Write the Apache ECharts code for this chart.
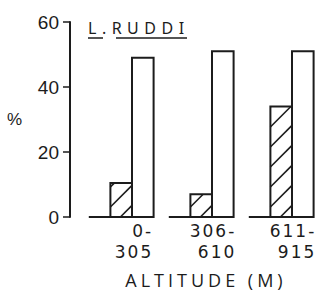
<!DOCTYPE html>
<html><head><meta charset="utf-8">
<script src="https://cdn.jsdelivr.net/npm/echarts@6/dist/echarts.min.js"></script>
<style>
html,body{margin:0;padding:0;background:#fff;}
#c{width:319px;height:291px;}
#c text[style*="DejaVu"]{letter-spacing:2px;}
#c text[style*="Noto Sans"]{letter-spacing:5.5px;}
#c text[style*="Open Sans"]{letter-spacing:4px;}
</style></head><body><div id="c"></div>
<script>
const categories = ['0-\n305', '306-\n610', '611-\n915'];
const hatchedValues = [10.5, 7, 34];
const openValues = [49, 51, 51];
const yTicks = [0, 20, 40, 60];
const titleText = 'L.RUDDI';
const xName = 'ALTITUDE (M)';
const yName = '%';

const ink = '#1c1c1c';
const chart = echarts.init(document.getElementById('c'), null, {renderer: 'svg'});

function renderItem(params, api) {
  const idx = api.value(0);
  const hv = api.value(1), ov = api.value(2);
  const p0 = api.coord([idx, 0]);
  const pH = api.coord([idx, hv]);
  const pO = api.coord([idx, ov]);
  const band = api.size([1, 0])[0];
  const w = band * 0.27;
  const cx = p0[0], yb = p0[1];
  const children = [];
  const x0 = cx - w, x1 = cx, y0 = pH[1], y1 = yb;
  children.push({type: 'rect', shape: {x: x0, y: y0, width: w, height: y1 - y0},
    style: {fill: '#fff', stroke: ink, lineWidth: 2}});
  const step = 20;
  let c = x0 + y1 - 10;
  while (c + step < x1 + y1) c += step;
  for (; c > x0 + y0; c -= step) {
    const xa = Math.max(x0, c - y1), xb = Math.min(x1, c - y0);
    if (xb > xa) children.push({type: 'line', shape: {x1: xa, y1: c - xa, x2: xb, y2: c - xb},
      style: {stroke: ink, lineWidth: 1.6}});
  }
  children.push({type: 'rect', shape: {x: cx, y: pO[1], width: w, height: yb - pO[1]},
    style: {fill: '#fff', stroke: ink, lineWidth: 2}});
  children.push({type: 'line', shape: {x1: cx - 2 * w, y1: yb, x2: cx + w, y2: yb},
    style: {stroke: ink, lineWidth: 2}});
  return {type: 'group', children};
}

chart.setOption({
  animation: false,
  backgroundColor: '#fff',
  title: {text: titleText, left: 88, top: 20, padding: 0,
    textStyle: {fontFamily: 'Noto Sans', fontSize: 16, fontWeight: 'normal', color: ink}},
  graphic: [
    {type: 'line', shape: {x1: 88, y1: 38, x2: 103, y2: 38}, style: {stroke: ink, lineWidth: 1.5}},
    {type: 'line', shape: {x1: 116, y1: 38, x2: 187, y2: 38}, style: {stroke: ink, lineWidth: 1.5}}
  ],
  grid: {left: 92, right: -13, top: 22, bottom: 74, containLabel: false, outerBoundsMode: 'none'},
  xAxis: {
    type: 'category', data: categories,
    axisLine: {show: false}, axisTick: {show: false}, splitLine: {show: false},
    axisLabel: {margin: 3, align: 'center', interval: 0, padding: [0, 0, 0, 10],
      fontFamily: 'DejaVu Sans', fontSize: 17, color: ink,
      formatter: v => v.split('\n').map(s => '{r|' + s + '}').join('\n'),
      rich: {r: {align: 'right', fontFamily: 'DejaVu Sans', fontSize: 17, lineHeight: 21, color: ink}}},
    name: xName, nameLocation: 'middle', nameGap: 54,
    nameTextStyle: {fontFamily: 'Open Sans', fontSize: 18, color: ink, padding: [0, 12, 0, 0]}
  },
  yAxis: {
    type: 'value', min: yTicks[0], max: yTicks[yTicks.length - 1], interval: yTicks[1] - yTicks[0],
    offset: 22,
    name: yName, nameLocation: 'middle', nameRotate: 0, nameGap: 48,
    nameTextStyle: {fontFamily: 'Liberation Sans', fontSize: 17, color: ink},
    axisLine: {show: true, lineStyle: {color: ink, width: 2}},
    axisTick: {show: true, length: 7, lineStyle: {color: ink, width: 1.5}},
    axisLabel: {margin: 11, fontFamily: 'Liberation Sans', fontSize: 19, color: ink},
    splitLine: {show: false}
  },
  series: [{
    type: 'custom', renderItem, clip: false,
    data: categories.map((c, i) => [i, hatchedValues[i], openValues[i]]),
    encode: {x: 0, y: [1, 2]}
  }]
});
</script></body></html>
